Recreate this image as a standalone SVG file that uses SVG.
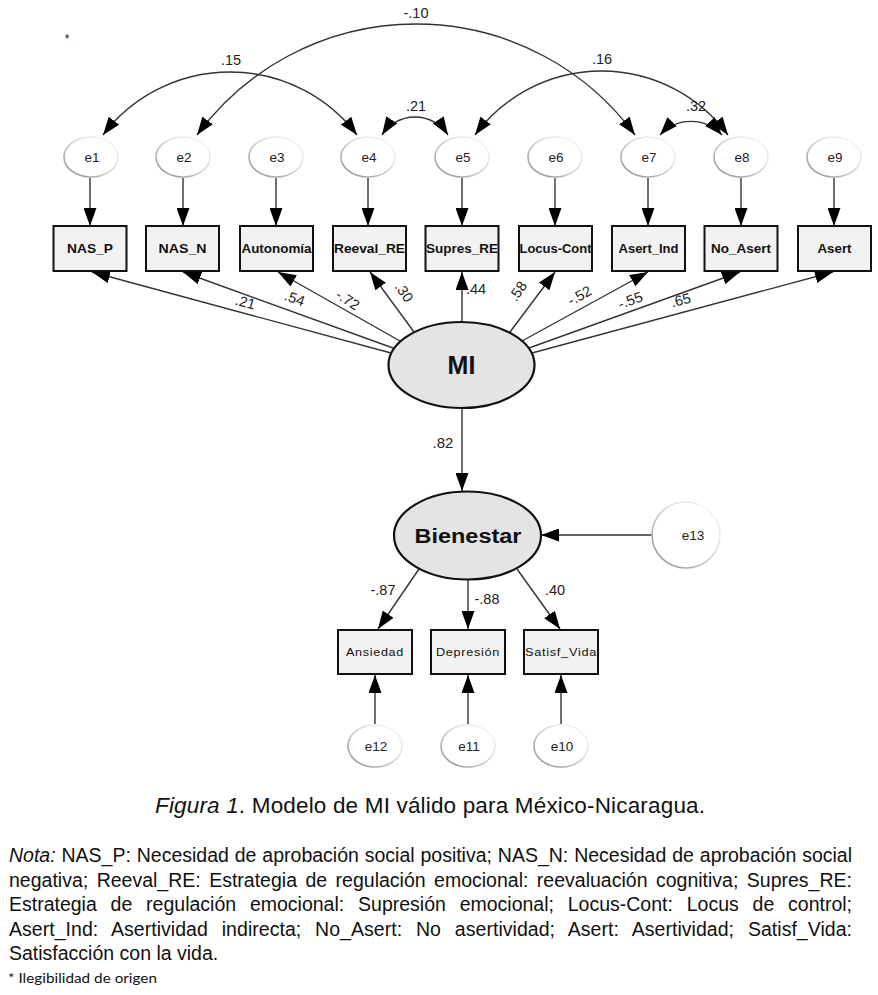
<svg xmlns="http://www.w3.org/2000/svg" width="878" height="995" viewBox="0 0 878 995">
<style>
text{font-family:"Liberation Sans",Arial,sans-serif;fill:#111}
.box{fill:#f2f2f2;stroke:#111;stroke-width:2}
.lat{fill:#e4e4e4;stroke:#111;stroke-width:2.2}
.err{fill:#fff;stroke:url(#eg);stroke-width:1.6}
.bl{font-size:12px;font-weight:bold;text-anchor:middle}
.bb{font-size:11px;text-anchor:middle;letter-spacing:0.6px}
.el{font-size:13.5px;text-anchor:middle;fill:#222}
.num{font-size:14.5px;fill:#222}
.c{fill:none;stroke:#333;stroke-width:1.4}
.a{marker-end:url(#ah)}
.d{marker-start:url(#ah);marker-end:url(#ah)}
.note{font-size:19.5px}
</style>
<defs>
<linearGradient id="eg" x1="0" y1="1" x2="1" y2="0">
<stop offset="0" stop-color="#8a8a8a"/>
<stop offset="0.55" stop-color="#d8d8d8"/>
<stop offset="1" stop-color="#ffffff"/>
</linearGradient>
<marker id="ah" viewBox="0 0 18 13" refX="18" refY="6.5" markerWidth="18" markerHeight="13" markerUnits="userSpaceOnUse" orient="auto-start-reverse">
<path d="M0,0 L18,6.5 L0,13 z" fill="#000"/>
</marker>
</defs>

<text x="67" y="43" style="font-size:12px" text-anchor="middle">*</text>

<g id="connectors">
<path class="c d" d="M103,135 A159.5,159.5 0 0 1 357,135"/>
<path class="c d" d="M197,135 A271.5,271.5 0 0 1 635,135"/>
<path class="c d" d="M382,135 A39.25,39.25 0 0 1 448,135"/>
<path class="c d" d="M475,135 A157,157 0 0 1 728,135"/>
<path class="c d" d="M660,135 A42,42 0 0 1 722,135"/>
<path class="c a" d="M90,178 L90,226"/>
<path class="c a" d="M183,178 L183,226"/>
<path class="c a" d="M276,178 L276,226"/>
<path class="c a" d="M368,178 L368,226"/>
<path class="c a" d="M462,178 L462,226"/>
<path class="c a" d="M555,178 L555,226"/>
<path class="c a" d="M648,178 L648,226"/>
<path class="c a" d="M741,178 L741,226"/>
<path class="c a" d="M834,178 L834,226"/>
<path class="c a" d="M391,353 L92,272"/>
<path class="c a" d="M393,348 L183,272"/>
<path class="c a" d="M400,341 L278,272"/>
<path class="c a" d="M414,332 L370,272"/>
<path class="c a" d="M462,322 L462,272"/>
<path class="c a" d="M510,332 L555,272"/>
<path class="c a" d="M522,341 L648,272"/>
<path class="c a" d="M529,348 L740,272"/>
<path class="c a" d="M532,353 L833,272"/>
<path class="c a" d="M462,408 L462,491"/>
<path class="c a" d="M652,535 L541,535"/>
<path class="c a" d="M419,569 L378,629"/>
<path class="c a" d="M468,580 L468,629"/>
<path class="c a" d="M517,569 L560,629"/>
<path class="c a" d="M375,724 L375,675"/>
<path class="c a" d="M468,724 L468,675"/>
<path class="c a" d="M561,724 L561,675"/>
</g>

<g id="labels">
<text class="num" x="231" y="65" text-anchor="middle">.15</text>
<text class="num" x="416" y="18" text-anchor="middle">-.10</text>
<text class="num" x="416" y="111" text-anchor="middle">.21</text>
<text class="num" x="602" y="64" text-anchor="middle">.16</text>
<text class="num" x="696" y="111" text-anchor="middle">.32</text>
<text class="num" transform="translate(244,307) rotate(15)" text-anchor="middle">.21</text>
<text class="num" transform="translate(293,303) rotate(20)" text-anchor="middle">.54</text>
<text class="num" transform="translate(345,304) rotate(33)" text-anchor="middle">-.72</text>
<text class="num" transform="translate(400,295) rotate(56)" text-anchor="middle">.30</text>
<text class="num" x="476" y="294" text-anchor="middle">.44</text>
<text class="num" transform="translate(522,294) rotate(-56)" text-anchor="middle">.58</text>
<text class="num" transform="translate(582,300) rotate(-29)" text-anchor="middle">-.52</text>
<text class="num" transform="translate(632,305) rotate(-20)" text-anchor="middle">-.55</text>
<text class="num" transform="translate(682,305) rotate(-15)" text-anchor="middle">.65</text>
<text class="num" x="443" y="448" text-anchor="middle" style="font-size:15px">.82</text>
<text class="num" x="383" y="595" text-anchor="middle">-.87</text>
<text class="num" x="487" y="604" text-anchor="middle">-.88</text>
<text class="num" x="555" y="595" text-anchor="middle">.40</text>
</g>

<g id="e1"><ellipse class="err" cx="91" cy="157" rx="27" ry="20"/><text class="el" x="92" y="162">e1</text></g>
<g id="e2"><ellipse class="err" cx="183" cy="157" rx="27" ry="20"/><text class="el" x="184" y="162">e2</text></g>
<g id="e3"><ellipse class="err" cx="276" cy="157" rx="27" ry="20"/><text class="el" x="277" y="162">e3</text></g>
<g id="e4"><ellipse class="err" cx="368" cy="157" rx="27" ry="20"/><text class="el" x="369" y="162">e4</text></g>
<g id="e5"><ellipse class="err" cx="462" cy="157" rx="27" ry="20"/><text class="el" x="463" y="162">e5</text></g>
<g id="e6"><ellipse class="err" cx="555" cy="157" rx="27" ry="20"/><text class="el" x="556" y="162">e6</text></g>
<g id="e7"><ellipse class="err" cx="648" cy="157" rx="27" ry="20"/><text class="el" x="649" y="162">e7</text></g>
<g id="e8"><ellipse class="err" cx="741" cy="157" rx="27" ry="20"/><text class="el" x="742" y="162">e8</text></g>
<g id="e9"><ellipse class="err" cx="834" cy="157" rx="27" ry="20"/><text class="el" x="835" y="162">e9</text></g>

<g id="NAS_P"><rect class="box" x="53.5" y="226" width="73" height="45"/><text class="bl" x="90" y="253" textLength="46" lengthAdjust="spacingAndGlyphs">NAS_P</text></g>
<g id="NAS_N"><rect class="box" x="146" y="226" width="73" height="45"/><text class="bl" x="182.5" y="253" textLength="48" lengthAdjust="spacingAndGlyphs">NAS_N</text></g>
<g id="Autonomia"><rect class="box" x="240" y="226" width="73" height="45"/><text class="bl" x="276.5" y="253" textLength="70" lengthAdjust="spacingAndGlyphs">Autonomía</text></g>
<g id="Reeval_RE"><rect class="box" x="333" y="226" width="73" height="45"/><text class="bl" x="369.5" y="253" textLength="71" lengthAdjust="spacingAndGlyphs">Reeval_RE</text></g>
<g id="Supres_RE"><rect class="box" x="425.5" y="226" width="73" height="45"/><text class="bl" x="462" y="253" textLength="72" lengthAdjust="spacingAndGlyphs">Supres_RE</text></g>
<g id="Locus-Cont"><rect class="box" x="519" y="226" width="73" height="45"/><text class="bl" x="555.5" y="253" textLength="72" lengthAdjust="spacingAndGlyphs">Locus-Cont</text></g>
<g id="Asert_Ind"><rect class="box" x="612" y="226" width="73" height="45"/><text class="bl" x="648.5" y="253" textLength="60" lengthAdjust="spacingAndGlyphs">Asert_Ind</text></g>
<g id="No_Asert"><rect class="box" x="704.5" y="226" width="73" height="45"/><text class="bl" x="741" y="253" textLength="60" lengthAdjust="spacingAndGlyphs">No_Asert</text></g>
<g id="Asert"><rect class="box" x="798" y="226" width="73" height="45"/><text class="bl" x="834.5" y="253" textLength="34" lengthAdjust="spacingAndGlyphs">Asert</text></g>

<g id="MI"><ellipse class="lat" cx="461.5" cy="365" rx="73" ry="43"/><text x="461.5" y="374" text-anchor="middle" style="font-size:25px;font-weight:bold">MI</text></g>
<g id="Bienestar"><ellipse class="lat" cx="467.5" cy="535.5" rx="73.5" ry="44"/><text x="468" y="543" text-anchor="middle" style="font-size:19.5px;font-weight:bold" textLength="107" lengthAdjust="spacingAndGlyphs">Bienestar</text></g>
<g id="e13"><ellipse class="err" cx="686" cy="535" rx="34" ry="33"/><text class="el" x="693" y="540">e13</text></g>

<g id="Ansiedad"><rect class="box" x="338" y="630" width="74" height="44"/><text class="bb" x="375" y="656" textLength="58" lengthAdjust="spacingAndGlyphs">Ansiedad</text></g>
<g id="Depresion"><rect class="box" x="431" y="630" width="74" height="44"/><text class="bb" x="468" y="656" textLength="64" lengthAdjust="spacingAndGlyphs">Depresión</text></g>
<g id="Satisf_Vida"><rect class="box" x="524" y="630" width="74" height="44"/><text class="bb" x="561" y="656" textLength="72" lengthAdjust="spacingAndGlyphs">Satisf_Vida</text></g>

<g id="e12"><ellipse class="err" cx="375" cy="746" rx="27" ry="21"/><text class="el" x="376" y="751">e12</text></g>
<g id="e11"><ellipse class="err" cx="468" cy="746" rx="27" ry="21"/><text class="el" x="469" y="751">e11</text></g>
<g id="e10"><ellipse class="err" cx="561" cy="746" rx="27" ry="21"/><text class="el" x="562" y="751">e10</text></g>

<text x="155" y="813" style="font-size:22.5px" textLength="550" lengthAdjust="spacing"><tspan font-style="italic">Figura 1</tspan>. Modelo de MI válido para México-Nicaragua.</text>

<text class="note" x="9" y="862" textLength="843" lengthAdjust="spacing" word-spacing="0.5"><tspan font-style="italic">Nota:</tspan> NAS_P: Necesidad de aprobación social positiva; NAS_N: Necesidad de aprobación social</text>
<text class="note" x="9" y="887" textLength="843" lengthAdjust="spacing" word-spacing="3">negativa; Reeval_RE: Estrategia de regulación emocional: reevaluación cognitiva; Supres_RE:</text>
<text class="note" x="9" y="911" textLength="843" lengthAdjust="spacing" word-spacing="8.4">Estrategia de regulación emocional: Supresión emocional; Locus-Cont: Locus de control;</text>
<text class="note" x="9" y="936" textLength="843" lengthAdjust="spacing" word-spacing="8.4">Asert_Ind: Asertividad indirecta; No_Asert: No asertividad; Asert: Asertividad; Satisf_Vida:</text>
<text class="note" x="9" y="960">Satisfacción con la vida.</text>
<text x="8" y="983" style="font-family:Lato,'Open Sans',sans-serif;font-size:13px" textLength="149" lengthAdjust="spacingAndGlyphs">* Ilegibilidad de origen</text>
</svg>
